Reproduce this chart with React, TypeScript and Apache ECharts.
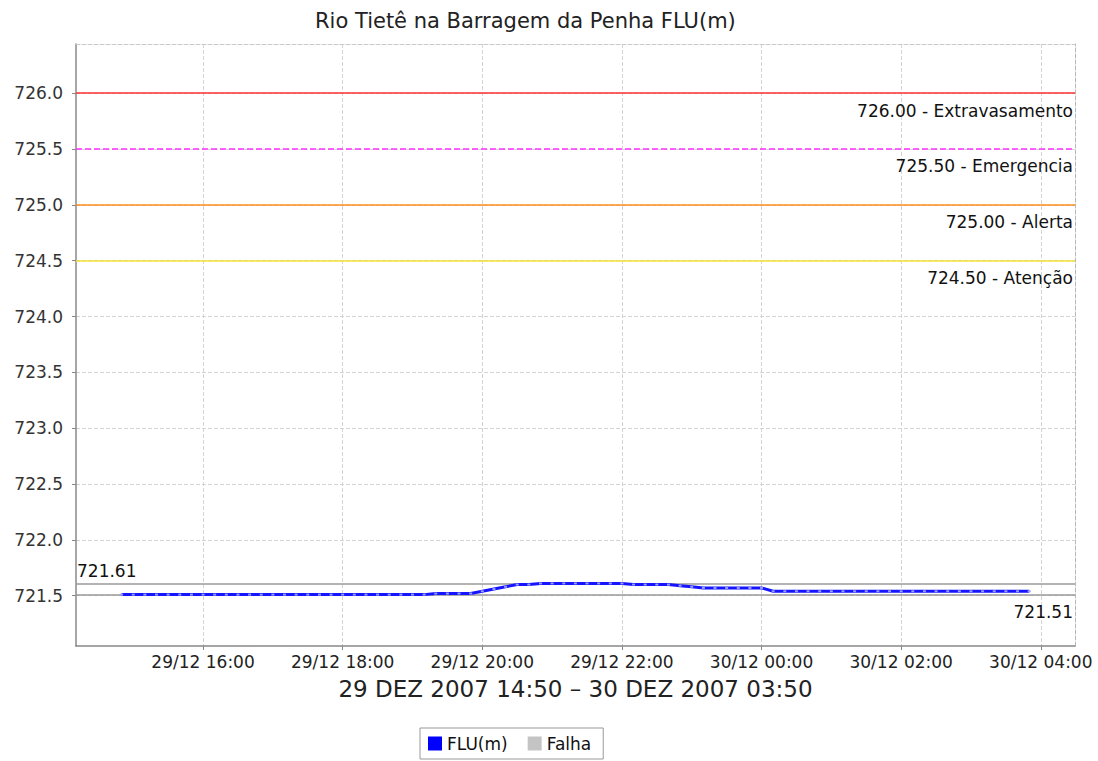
import React, { useEffect, useRef } from "react";
import * as echarts from "echarts";

const TITLE = "Rio Tietê na Barragem da Penha FLU(m)";
const AXIS_NAME = "29 DEZ 2007 14:50 – 30 DEZ 2007 03:50";

// hours since 29/12 00:00 of the first reading; readings every 10 minutes
const START_HOUR = 14 + 50 / 60;
const STEP_HOURS = 10 / 60;

const fluValues = [
  721.51, 721.51, 721.51, 721.51, 721.51, 721.51, 721.51, 721.51, 721.51, 721.51,
  721.51, 721.51, 721.51, 721.51, 721.51, 721.51, 721.51, 721.51, 721.51, 721.51,
  721.51, 721.51, 721.51, 721.51, 721.51, 721.51, 721.51, 721.52, 721.52, 721.52,
  721.52, 721.54, 721.56, 721.58, 721.6, 721.6, 721.61, 721.61, 721.61, 721.61,
  721.61, 721.61, 721.61, 721.61, 721.6, 721.6, 721.6, 721.6, 721.59, 721.58,
  721.57, 721.57, 721.57, 721.57, 721.57, 721.57, 721.54, 721.54, 721.54, 721.54,
  721.54, 721.54, 721.54, 721.54, 721.54, 721.54, 721.54, 721.54, 721.54, 721.54,
  721.54, 721.54, 721.54, 721.54, 721.54, 721.54, 721.54, 721.54, 721.54,
];

const xTicks = [16, 18, 20, 22, 24, 26, 28];
const yTicks = [721.5, 722.0, 722.5, 723.0, 723.5, 724.0, 724.5, 725.0, 725.5, 726.0];

const thresholdValues = [726.0, 725.5, 725.0, 724.5];
const thresholdNames = ["Extravasamento", "Emergencia", "Alerta", "Atenção"];
const thresholdColors = ["#ff3030", "#ff30ff", "#ff8c1a", "#f2e234"];
const thresholdTypes = ["solid", "dashed", "solid", "solid"];

const maxValue = 721.61;
const minValue = 721.51;

const FONT = "DejaVu Sans";

export default function App() {
  const ref = useRef<HTMLDivElement>(null);
  useEffect(() => {
    document.body.style.margin = "0";
    const chart = echarts.init(ref.current!, undefined, { renderer: "svg" });
    const data = fluValues.map((v, i) => [START_HOUR + i * STEP_HOURS, v]);
    const pad = (n: number) => (n < 10 ? "0" + n : "" + n);
    const markData: any[] = thresholdValues.map((v, i) => ({
      yAxis: v,
      lineStyle: { color: thresholdColors[i], type: thresholdTypes[i], width: 1.5 },
      label: {
        show: true,
        position: "insideEndBottom",
        distance: [2, 9],
        formatter: `${v.toFixed(2)} - ${thresholdNames[i]}`,
        color: "#111",
        fontSize: 17,
        fontFamily: FONT,
      },
    }));
    markData.push({
      yAxis: maxValue,
      lineStyle: { color: "#9a9a9a", type: "solid", width: 1.5 },
      label: {
        show: true,
        position: "insideStartTop",
        distance: [1, 4],
        formatter: maxValue.toFixed(2),
        color: "#111",
        fontSize: 17,
        fontFamily: FONT,
      },
    });
    markData.push({
      yAxis: minValue,
      lineStyle: { color: "#9a9a9a", type: "solid", width: 1.5 },
      label: {
        show: true,
        position: "insideEndBottom",
        distance: [2, 9],
        formatter: minValue.toFixed(2),
        color: "#111",
        fontSize: 17,
        fontFamily: FONT,
      },
    });

    chart.setOption({
      animation: false,
      backgroundColor: "#ffffff",
      title: {
        text: TITLE,
        left: 310,
        top: 5,
        textStyle: { fontFamily: FONT, fontSize: 21, fontWeight: "normal", color: "#222" },
      },
      legend: {
        left: 420,
        top: 728,
        padding: [7, 12, 7, 8],
        itemWidth: 14,
        itemHeight: 14,
        itemGap: 20,
        borderColor: "#999",
        borderWidth: 1,
        icon: "rect",
        data: [
          { name: "FLU(m)", itemStyle: { color: "#0000ff" } },
          { name: "Falha", itemStyle: { color: "#c4c4c4" } },
        ],
        textStyle: { fontFamily: FONT, fontSize: 17, color: "#111" },
      },
      grid: { left: 76, top: 44, right: 23, bottom: 115 },
      xAxis: [
        {
          type: "value",
          min: 14.18,
          max: 28.49,
          name: AXIS_NAME,
          nameLocation: "middle",
          nameGap: 31,
          nameTextStyle: { fontFamily: FONT, fontSize: 23, color: "#222" },
          axisLine: { show: true, lineStyle: { color: "#888", width: 1.5 } },
          axisTick: { show: true, length: 4, inside: false, customValues: xTicks, lineStyle: { color: "#888" } },
          axisLabel: {
            customValues: xTicks,
            margin: 7,
            fontFamily: FONT,
            fontSize: 17,
            color: "#222",
            formatter: (v: number) => `${v >= 24 ? 30 : 29}/12 ${pad(Math.round(v) % 24)}:00`,
          },
          splitLine: { show: true, lineStyle: { color: "#d4d4d4", type: "dashed" } },
        },
        {
          type: "value",
          position: "top",
          min: 14.18,
          max: 28.49,
          axisLine: { show: true, lineStyle: { color: "#c8c8c8", type: "dashed" } },
          axisTick: { show: false },
          axisLabel: { show: false },
          splitLine: { show: false },
        },
      ],
      yAxis: [
        {
          type: "value",
          min: 721.05,
          max: 726.44,
          axisLine: { show: true, lineStyle: { color: "#888", width: 1.5 } },
          axisTick: { show: true, length: 4, inside: false, customValues: yTicks, lineStyle: { color: "#888" } },
          axisLabel: {
            customValues: yTicks,
            margin: 13,
            fontFamily: FONT,
            fontSize: 17,
            color: "#333",
            formatter: (v: number) => v.toFixed(1),
          },
          splitLine: { show: true, lineStyle: { color: "#d4d4d4", type: "dashed" } },
        },
        {
          type: "value",
          position: "right",
          min: 721.05,
          max: 726.44,
          axisLine: { show: true, lineStyle: { color: "#b8b8b8", type: "dashed" } },
          axisTick: { show: false },
          axisLabel: { show: false },
          splitLine: { show: false },
        },
      ],
      series: [
        {
          name: "FLU(m)",
          type: "line",
          data,
          xAxisIndex: 0,
          yAxisIndex: 0,
          z: 4,
          showSymbol: true,
          symbol: "rect",
          symbolSize: [3, 2],
          color: "#0000ff",
          itemStyle: { color: "#9a9aff" },
          lineStyle: { color: "#1515ff", width: 3 },
          markLine: {
            silent: true,
            z: 1,
            symbol: ["none", "none"],
            data: markData,
          },
        },
        {
          name: "Falha",
          type: "line",
          data: [],
          color: "#c4c4c4",
          itemStyle: { color: "#c4c4c4" },
        },
      ],
    });
    return () => chart.dispose();
  }, []);
  return <div ref={ref} style={{ width: 1098, height: 761 }} />;
}
